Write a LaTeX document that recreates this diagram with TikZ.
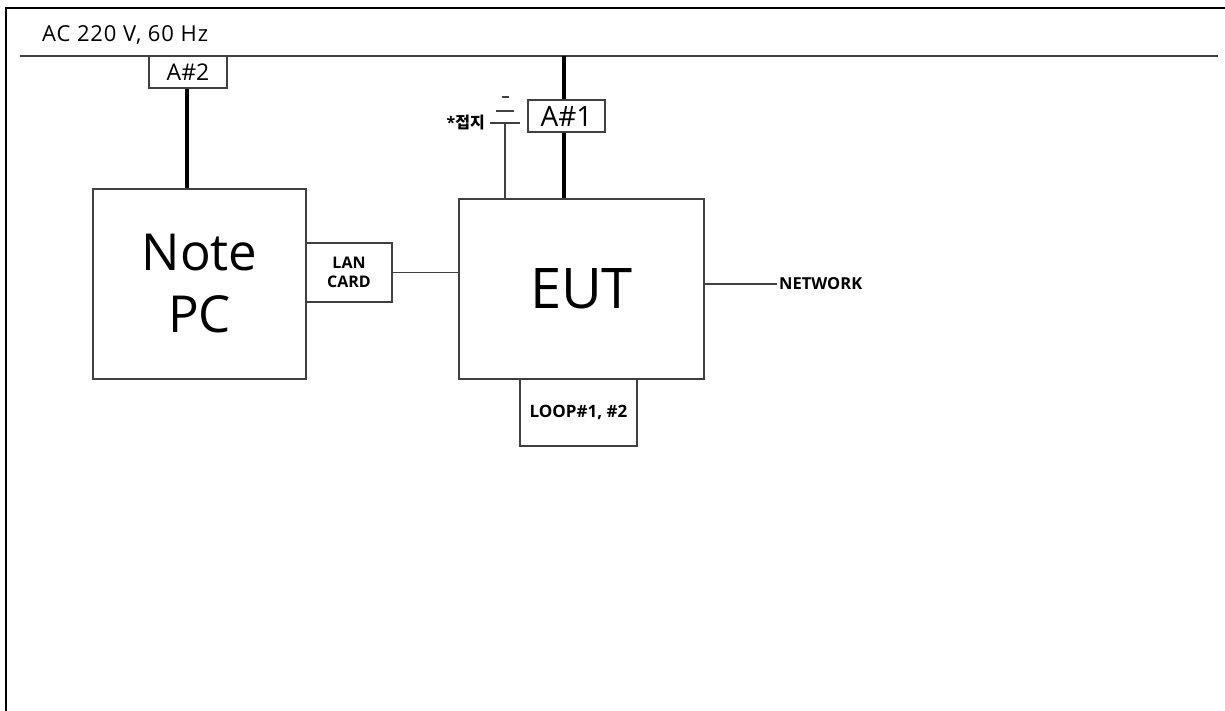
\documentclass[tikz,border=0pt]{standalone}
\usepackage{fontspec}
\setmainfont{Open Sans}
\newfontfamily\widefont{Open Sans}[LetterSpace=4]
\newfontfamily\krfont{Noto Sans CJK KR}
\begin{document}
\begin{tikzpicture}[x=1pt,y=-1pt,
  thin line/.style={draw=black!75,line width=1.5pt},
  thick line/.style={draw=black,line width=4pt},
  box/.style={rectangle,draw=black!75,line width=1.5pt,fill=white,inner sep=0pt,align=center}]
\useasboundingbox (0,0) rectangle (1225,711);
% frame
\draw[black,line width=1.5pt] (6,711) -- (6,8) -- (1225,8);
% mains line
\coordinate (mainL) at (20,56);
\coordinate (mainR) at (1218,56);
\draw[thin line] (mainL) -- (mainR);
\node[anchor=base west,inner sep=0pt,font=\widefont\fontsize{22}{26}\selectfont] (ac) at (42,41.7) {AC 220 V, 60 Hz};
% boxes
\node[box,minimum width=78pt,minimum height=32pt,font=\fontsize{23}{26}\selectfont] (a2) at (188,72) {A\#2};
\node[box,minimum width=213pt,minimum height=190pt,font=\fontsize{51}{62}\selectfont] (pc) at (199.5,284) {Note\\PC};
\node[box,minimum width=86pt,minimum height=59pt,font=\fontsize{16}{19}\selectfont\bfseries] (lan) at (349,272.5) {LAN\\CARD};
\node[box,minimum width=245pt,minimum height=180pt,font=\fontsize{56}{66}\selectfont] (eut) at (581.5,289) {EUT};
\node[box,minimum width=77pt,minimum height=32pt,font=\fontsize{28}{30}\selectfont] (a1) at (566.5,116) {A\#1};
\node[box,minimum width=117pt,minimum height=67pt,font=\fontsize{17}{20}\selectfont\bfseries] (loop) at (578.5,412.5) {LOOP\#1, \#2};
% power lines
\draw[thick line] (a2.south -| 187,0) -- (pc.north -| 187,0);
\coordinate (a1top) at (564,56);
\draw[thick line] (a1top) -- (a1.north -| a1top);
\draw[thick line] (a1.south -| a1top) -- (eut.north -| a1top);
% LAN link
\draw[thin line] (lan.east) -- (lan.east -| eut.west);
% network
\coordinate (netend) at (777,284);
\draw[thin line] (eut.east |- netend) -- (netend);
\node[anchor=west,inner sep=2pt,font=\fontsize{16.5}{19}\selectfont\bfseries] (net) at (netend) {NETWORK};
% ground
\coordinate (gnd) at (505,123);
\draw[thin line] (eut.north -| gnd) -- (gnd);
\draw[thin line] (490,123) -- (520,123);
\draw[thin line] (496,111) -- (514,111);
\draw[thin line] (502,97) -- (509,97);
\node[anchor=east,inner sep=2pt,font=\fontsize{16}{19}\selectfont\bfseries] (gl) at (487,123) {*\krfont\bfseries 접지};
\end{tikzpicture}
\end{document}
